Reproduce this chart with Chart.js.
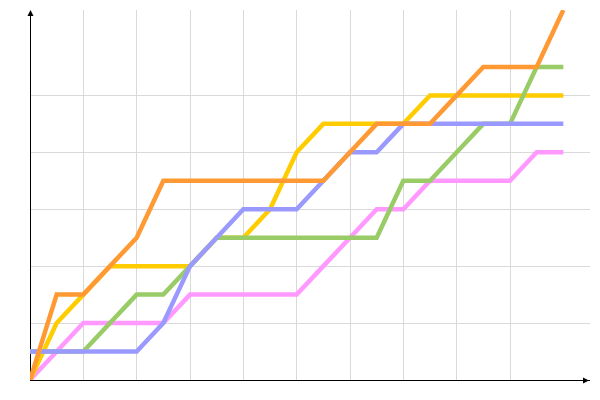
<!DOCTYPE html>
<html>
<head>
<meta charset="utf-8">
<script src="https://cdn.jsdelivr.net/npm/chart.js@4.4.1/dist/chart.umd.min.js"></script>
<style>
  html, body { margin: 0; padding: 0; background: #ffffff; }
  #wrap { width: 600px; height: 400px; position: relative; }
</style>
</head>
<body>
<div id="wrap"><canvas id="c"></canvas></div>
<script>
// Categories (x positions, half-unit steps)
const xValues = [0, 0.5, 1, 1.5, 2, 2.5, 3, 3.5, 4, 4.5, 5, 5.5, 6, 6.5, 7, 7.5, 8, 8.5, 9, 9.5, 10];

// Series values
const orangeValues = [0, 1.5, 1.5, 2, 2.5, 3.5, 3.5, 3.5, 3.5, 3.5, 3.5, 3.5, 4, 4.5, 4.5, 4.5, 5, 5.5, 5.5, 5.5, 6.5];
const blueValues   = [0.5, 0.5, 0.5, 0.5, 0.5, 1, 2, 2.5, 3, 3, 3, 3.5, 4, 4, 4.5, 4.5, 4.5, 4.5, 4.5, 4.5, 4.5];
const greenValues  = [0.5, 0.5, 0.5, 1, 1.5, 1.5, 2, 2.5, 2.5, 2.5, 2.5, 2.5, 2.5, 2.5, 3.5, 3.5, 4, 4.5, 4.5, 5.5, 5.5];
const yellowValues = [0, 1, 1.5, 2, 2, 2, 2, 2.5, 2.5, 3, 4, 4.5, 4.5, 4.5, 4.5, 5, 5, 5, 5, 5, 5];
const pinkValues   = [0, 0.5, 1, 1, 1, 1, 1.5, 1.5, 1.5, 1.5, 1.5, 2, 2.5, 3, 3, 3.5, 3.5, 3.5, 3.5, 4, 4];

// Grid tick positions
const xGridTicks = [1, 2, 3, 4, 5, 6, 7, 8, 9];
const yGridTicks = [1, 2, 3, 4, 5];
const xMin = 0, xMax = 10.5;
const yMin = 0, yMax = 6.5;

const toPoints = (vals) => vals.map((v, i) => ({ x: xValues[i], y: v }));

function ds(vals, color) {
  return {
    data: toPoints(vals),
    borderColor: color,
    backgroundColor: color,
    borderWidth: 4.5,
    pointRadius: 0,
    pointHoverRadius: 0,
    tension: 0,
    fill: false,
    borderCapStyle: 'butt',
    borderJoinStyle: 'miter'
  };
}

const axisArrows = {
  id: 'axisArrows',
  beforeDatasetsDraw(chart) {
    const { ctx } = chart;
    const xs = chart.scales.x, ys = chart.scales.y;
    const x0 = xs.getPixelForValue(xMin);
    const y0 = ys.getPixelForValue(yMin);
    const xEnd = xs.getPixelForValue(xMax);
    const yEnd = ys.getPixelForValue(yMax);
    ctx.save();
    ctx.strokeStyle = '#000';
    ctx.fillStyle = '#000';
    ctx.lineWidth = 1;
    ctx.beginPath();
    ctx.moveTo(x0 + 0.5, y0);
    ctx.lineTo(x0 + 0.5, yEnd + 1);
    ctx.moveTo(x0, y0 + 0.5);
    ctx.lineTo(xEnd, y0 + 0.5);
    ctx.stroke();
    // arrowheads
    ctx.beginPath();
    ctx.moveTo(x0 + 0.5, yEnd);
    ctx.lineTo(x0 - 2.5, yEnd + 6);
    ctx.lineTo(x0 + 3.5, yEnd + 6);
    ctx.closePath();
    ctx.fill();
    ctx.beginPath();
    ctx.moveTo(xEnd - 1, y0 + 0.5);
    ctx.lineTo(xEnd - 7, y0 - 2.5);
    ctx.lineTo(xEnd - 7, y0 + 3.5);
    ctx.closePath();
    ctx.fill();
    ctx.restore();
  }
};

new Chart(document.getElementById('c'), {
  type: 'line',
  data: {
    datasets: [
      ds(orangeValues, '#FF9933'),
      ds(blueValues, '#9999FF'),
      ds(greenValues, '#99CC66'),
      ds(yellowValues, '#FFCC00'),
      ds(pinkValues, '#FF99FF')
    ]
  },
  options: {
    responsive: true,
    maintainAspectRatio: false,
    animation: false,
    layout: { padding: { left: 30, right: 10, top: 10, bottom: 20 } },
    plugins: { legend: { display: false }, tooltip: { enabled: false } },
    scales: {
      x: {
        type: 'linear',
        min: xMin, max: xMax,
        afterBuildTicks: (s) => { s.ticks = xGridTicks.map(v => ({ value: v })); },
        ticks: { display: false },
        grid: { color: '#d9d9d9', lineWidth: 1, drawTicks: false },
        border: { display: false }
      },
      y: {
        type: 'linear',
        min: yMin, max: yMax,
        afterBuildTicks: (s) => { s.ticks = yGridTicks.map(v => ({ value: v })); },
        ticks: { display: false },
        grid: { color: '#d9d9d9', lineWidth: 1, drawTicks: false },
        border: { display: false }
      }
    }
  },
  plugins: [axisArrows]
});
</script>
</body>
</html>
